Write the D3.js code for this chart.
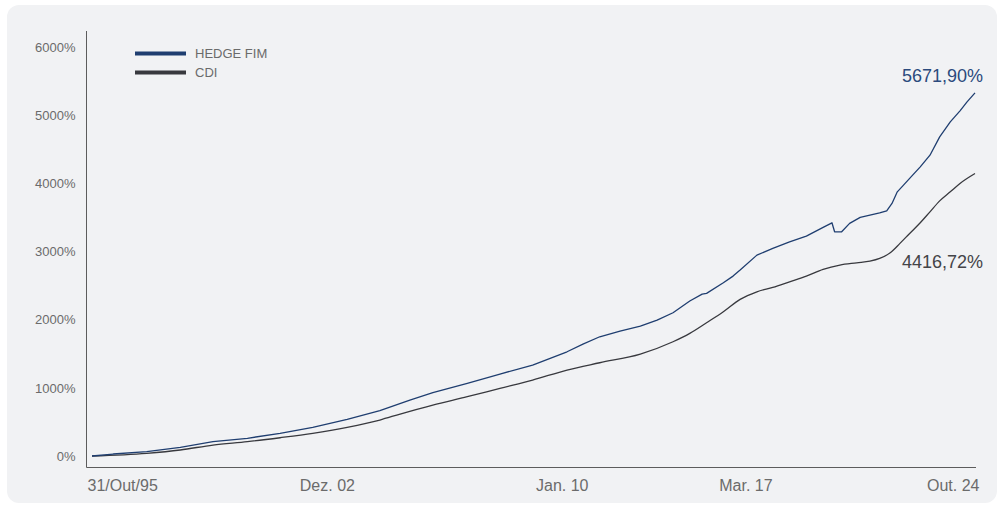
<!DOCTYPE html>
<html>
<head>
  <meta charset="utf-8">
  <title>HEDGE FIM x CDI</title>
  <script src="https://d3js.org/d3.v7.min.js"></script>
  <style type="text/css">
    body {
      margin: 0;
      background-color: #ffffff;
      font-family: "Liberation Sans", Arial, sans-serif;
    }
    .tick text { fill: #6b6b6b; }
  </style>
</head>
<body>
<div id="chart"></div>

<script>
  // position along the series (0 = 31/Out/95, 1000 = Out. 24)
  var hedgeIdx = [0, 24, 62, 100, 137, 176, 213, 250, 289, 326, 360, 386, 425, 462, 499, 538, 556, 575, 598, 621, 640, 658, 677, 691, 696, 715, 726, 734, 753, 771, 790, 809, 828, 838, 841, 849, 858, 870, 881, 892, 900, 906, 912, 918, 926, 938, 949, 960, 972, 983, 991, 1000];
  var hedgeVal = [0, 29, 63, 128, 210, 260, 333, 421, 538, 664, 821, 928, 1066, 1202, 1334, 1529, 1642, 1749, 1833, 1906, 1994, 2101, 2273, 2375, 2386, 2541, 2639, 2727, 2947, 3045, 3142, 3226, 3353, 3421, 3289, 3289, 3412, 3500, 3534, 3567, 3597, 3705, 3875, 3959, 4072, 4242, 4413, 4682, 4902, 5063, 5195, 5327];

  var cdiIdx = [0, 62, 100, 137, 176, 213, 250, 289, 326, 349, 386, 425, 462, 499, 538, 575, 621, 658, 677, 696, 715, 734, 753, 771, 790, 809, 828, 847, 866, 881, 892, 904, 915, 926, 938, 949, 960, 972, 983, 1000];
  var cdiVal = [0, 40, 88, 161, 210, 268, 333, 421, 528, 616, 748, 870, 993, 1114, 1261, 1368, 1496, 1676, 1799, 1955, 2116, 2298, 2409, 2474, 2556, 2639, 2738, 2801, 2834, 2859, 2899, 2981, 3119, 3265, 3421, 3582, 3743, 3875, 3999, 4145];

  var xTickIdx = [0, 266, 532, 740, 1000];
  var xTickLabels = ["31/Out/95", "Dez. 02", "Jan. 10", "Mar. 17", "Out. 24"];
  var yTicks = [0, 1000, 2000, 3000, 4000, 5000, 6000];

  var seriesNames = ["HEDGE FIM", "CDI"];
  var seriesColors = ["#1f3e70", "#38393e"];
  var endLabels = ["5671,90%", "4416,72%"];

  var width = 1000, height = 506;
  var svg = d3.select("#chart").append("svg").attr("width", width).attr("height", height);

  // background card
  svg.append("rect").attr("x", 7).attr("y", 5).attr("width", 990).attr("height", 498)
    .attr("rx", 12).attr("fill", "#f1f2f4");

  var x = d3.scaleLinear().domain([0, 1000]).range([92, 975]);
  var y = d3.scaleLinear().domain([0, 6000]).range([456, 47]);

  // y axis
  var yAxis = svg.append("g").attr("transform", "translate(86.5,0)")
    .call(d3.axisLeft(y).tickValues(yTicks).tickSize(0).tickPadding(11).tickFormat(function (d) { return d + "%"; }));
  yAxis.select(".domain").remove();
  yAxis.selectAll("text").style("font-size", "13px").style("font-family", "Liberation Sans, Arial, sans-serif");

  svg.append("line").attr("x1", 86.5).attr("x2", 86.5).attr("y1", 31).attr("y2", 467.5)
    .attr("stroke", "#5c5c5c").attr("stroke-width", 1);
  svg.append("line").attr("x1", 86.5).attr("x2", 976).attr("y1", 467.5).attr("y2", 467.5)
    .attr("stroke", "#5c5c5c").attr("stroke-width", 1);

  // x axis labels
  var xAxis = svg.append("g").attr("transform", "translate(0,467.5)")
    .call(d3.axisBottom(x).tickValues(xTickIdx).tickSize(0).tickPadding(12)
      .tickFormat(function (d, i) { return xTickLabels[i]; }));
  xAxis.select(".domain").remove();
  xAxis.selectAll("text").style("font-size", "16px").style("font-family", "Liberation Sans, Arial, sans-serif")
    .attr("text-anchor", function (d, i) { return i === 0 ? "start" : (i === xTickLabels.length - 1 ? "end" : "middle"); })
    .attr("dx", function (d, i) { return i === 0 ? -5 : (i === xTickLabels.length - 1 ? 4 : 0); });

  // lines
  var hedgeLine = d3.line().x(function (d) { return x(d[0]); }).y(function (d) { return y(d[1]); });
  var cdiLine = d3.line().curve(d3.curveMonotoneX).x(function (d) { return x(d[0]); }).y(function (d) { return y(d[1]); });
  var hedgeData = d3.zip(hedgeIdx, hedgeVal);
  var cdiData = d3.zip(cdiIdx, cdiVal);

  svg.append("path").datum(cdiData).attr("d", cdiLine).attr("fill", "none")
    .attr("stroke", seriesColors[1]).attr("stroke-width", 1.3);
  svg.append("path").datum(hedgeData).attr("d", hedgeLine).attr("fill", "none")
    .attr("stroke", seriesColors[0]).attr("stroke-width", 1.3).attr("stroke-linejoin", "round");

  // end labels
  svg.append("text").attr("x", 983).attr("y", 76).attr("dy", "0.35em").attr("text-anchor", "end")
    .style("font-size", "18px").attr("fill", "#2b4a7d").text(endLabels[0]);
  svg.append("text").attr("x", 983).attr("y", 262).attr("dy", "0.35em").attr("text-anchor", "end")
    .style("font-size", "18px").attr("fill", "#444448").text(endLabels[1]);

  // legend
  var legend = svg.selectAll(".legend").data(seriesNames).enter().append("g").attr("class", "legend")
    .attr("transform", function (d, i) { return "translate(135," + (53.5 + i * 19) + ")"; });
  legend.append("line").attr("x1", 0).attr("x2", 51).attr("y1", 0).attr("y2", 0)
    .attr("stroke", function (d, i) { return seriesColors[i]; }).attr("stroke-width", 4);
  legend.append("text").attr("x", 60).attr("y", 0).attr("dy", "0.35em")
    .style("font-size", "13px").attr("fill", "#6b6b6b").text(function (d) { return d; });
</script>

</body>
</html>
